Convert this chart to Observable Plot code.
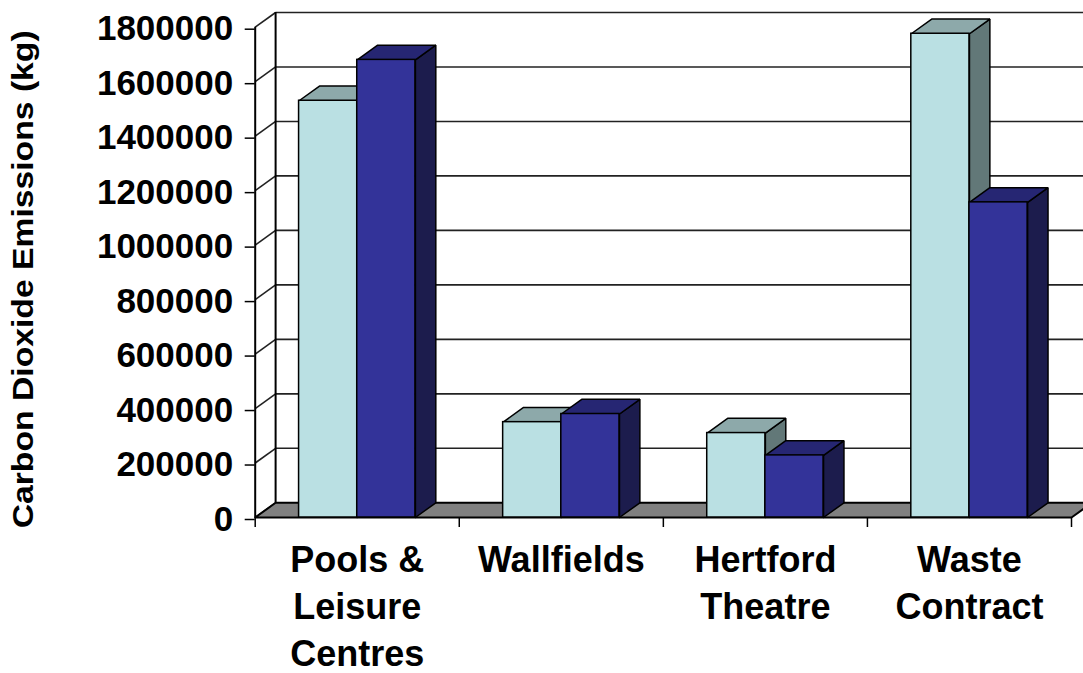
<!DOCTYPE html>
<html><head><meta charset="utf-8">
<script src="https://cdn.jsdelivr.net/npm/d3@7"></script>
<script src="https://cdn.jsdelivr.net/npm/@observablehq/plot@0.6"></script>
<style>
html,body{margin:0;padding:0;background:#fff;overflow:hidden}
#chart svg{display:block}
</style>
</head><body><div id="chart"></div>
<script>
// ---- data ----
const categories = ["Pools &\nLeisure\nCentres", "Wallfields", "Hertford\nTheatre", "Waste\nContract"];
const seriesNames = ["Series 1", "Series 2"];
const series1 = [1530000, 350000, 310000, 1776000];
const series2 = [1680000, 380000, 228000, 1157000];
const yTicks = [0, 200000, 400000, 600000, 800000, 1000000, 1200000, 1400000, 1600000, 1800000];
const yTitle = "Carbon Dioxide Emissions (kg)";

// ---- style / geometry constants ----
const DX = 0.1, DY = 54000;          // 3-D depth offset (in scale units)
const OFF = [0.215, 0.5], BW = 0.285; // bar offset within each category band, bar width
const FRONT = ["#BAE0E3", "#333399"];
const TOP = ["#8DA9AA", "#262673"];
const SIDE = ["#627878", "#1C1C4D"];
const FONT = "'Liberation Sans', Arial, Helvetica, sans-serif";
const yMax = yTicks[yTicks.length - 1];
const nCat = categories.length;

const values = [series1, series2];
const bars = [];
values.forEach((vals, s) => vals.forEach((v, i) =>
  bars.push({series: seriesNames[s], s, i, v, x0: i + OFF[s], x1: i + OFF[s] + BW})));

const poly = (id, pts) => pts.concat([pts[0]]).map(([x, y]) => ({id, x, y}));
const tops = s => bars.filter(b => b.s === s).flatMap(b =>
  poly("t" + s + b.i, [[b.x0, b.v], [b.x1, b.v], [b.x1 + DX, b.v + DY], [b.x0 + DX, b.v + DY]]));
const sides = s => bars.filter(b => b.s === s).flatMap(b =>
  poly("s" + s + b.i, [[b.x1, 0], [b.x1, b.v], [b.x1 + DX, b.v + DY], [b.x1 + DX, DY]]));
const floor = poly("floor", [[0, 0], [nCat, 0], [nCat + DX, DY], [DX, DY]]);

const barMarks = [0, 1].flatMap(s => [
  Plot.line(sides(s), {x: "x", y: "y", z: "id", fill: SIDE[s], stroke: "#000", strokeWidth: 1.5, strokeLinejoin: "miter"}),
  Plot.line(tops(s), {x: "x", y: "y", z: "id", fill: TOP[s], stroke: "#000", strokeWidth: 1.5, strokeLinejoin: "miter"}),
  Plot.rect(bars.filter(b => b.s === s), {x1: "x0", x2: "x1", y1: 0, y2: "v", fill: FRONT[s], stroke: "#000", strokeWidth: 1.5})
]);

const chart = Plot.plot({
  width: 1083,
  height: 673,
  marginLeft: 254.7,
  marginRight: 12,
  marginTop: 26.7,
  marginBottom: 156,
  style: {fontFamily: FONT, background: "white", color: "black"},
  x: {domain: [0, nCat], label: null},
  y: {domain: [0, yMax], label: null},
  marks: [
    // back wall grid lines
    Plot.link(yTicks.slice(1), {x1: DX, x2: nCat + DX, y1: d => d + DY, y2: d => d + DY, stroke: "#222", strokeWidth: 1.6}),
    // left wall diagonals
    Plot.link(yTicks, {x1: 0, y1: d => d, x2: DX, y2: d => d + DY, stroke: "#222", strokeWidth: 1.6}),
    // floor
    Plot.line(floor, {x: "x", y: "y", z: "id", fill: "#808080", stroke: "#000", strokeWidth: 2, strokeLinejoin: "miter"}),
    // wall edges
    Plot.ruleX([DX], {y1: DY, y2: yMax + DY, stroke: "#000", strokeWidth: 2}),
    Plot.ruleX([0], {y1: 0, y2: yMax, stroke: "#000", strokeWidth: 2}),
    ...barMarks,
    Plot.axisY({ticks: yTicks, tickSize: 10, tickPadding: 12, tickFormat: d => String(d), fontSize: 35, fontWeight: "bold", dy: 2, strokeWidth: 1.5, label: null}),
    Plot.axisX({ticks: d3.range(nCat + 1), tickSize: 10, fill: "none", tickFormat: () => "", strokeWidth: 1.5, label: null}),
    Plot.axisX({ticks: d3.range(nCat).map(i => i + 0.5), tickSize: 0, tickPadding: 21, tickFormat: d => categories[Math.floor(d)], fontSize: 36, fontWeight: "bold", lineHeight: 1.31, label: null}),
    Plot.text([yTitle], {frameAnchor: "left", dx: -232, dy: 256, rotate: -90, textAnchor: "start", fontSize: 30, fontWeight: "bold", fill: "black"})
  ]
});
document.getElementById("chart").append(chart);
chart.querySelectorAll("text").forEach(t => {
  if (t.textContent === yTitle) { t.setAttribute("textLength", "498"); t.setAttribute("lengthAdjust", "spacingAndGlyphs"); }
});
</script>
</body></html>
